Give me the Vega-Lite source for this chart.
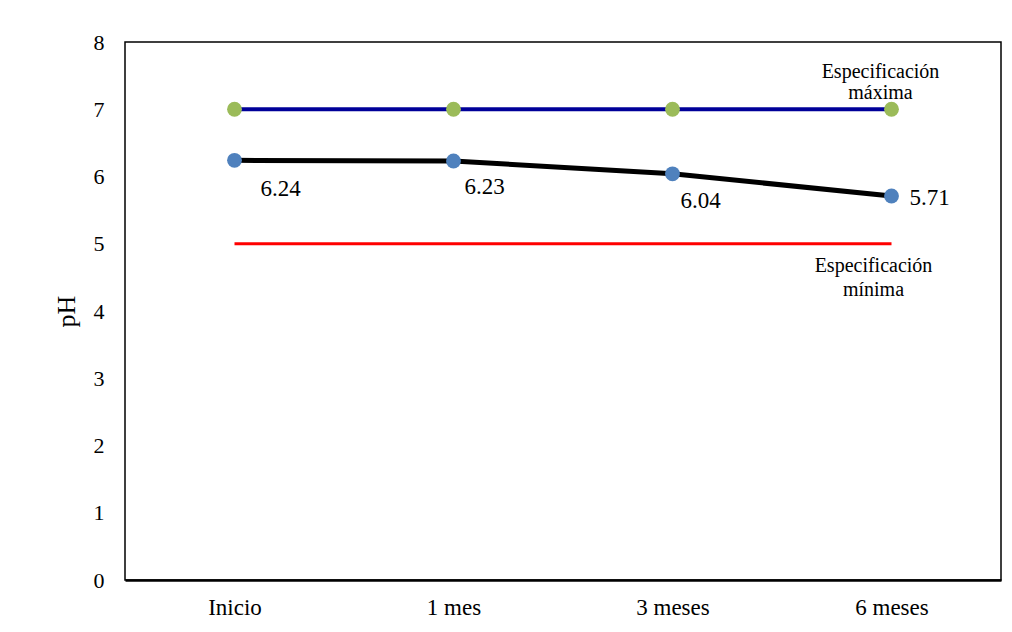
{
  "$schema": "https://vega.github.io/schema/vega-lite/v6.json",
  "autosize": {"type": "none"},
  "padding": {"left": 125, "top": 42, "right": 11, "bottom": 52},
  "width": 876,
  "height": 538,
  "background": "white",
  "config": {
    "font": "Liberation Serif, Times New Roman, serif",
    "text": {"font": "Liberation Serif, Times New Roman, serif"},
    "view": {"stroke": "black", "strokeWidth": 1.5},
    "axis": {"grid": false, "ticks": false, "labelFont": "Liberation Serif, Times New Roman, serif", "titleFont": "Liberation Serif, Times New Roman, serif", "labelColor": "black", "titleColor": "black"}
  },
  "data": {
    "values": [
      {"tiempo": "Inicio", "serie": "max", "ph": 7},
      {"tiempo": "1 mes", "serie": "max", "ph": 7},
      {"tiempo": "3 meses", "serie": "max", "ph": 7},
      {"tiempo": "6 meses", "serie": "max", "ph": 7},
      {"tiempo": "Inicio", "serie": "muestra", "ph": 6.24},
      {"tiempo": "1 mes", "serie": "muestra", "ph": 6.23},
      {"tiempo": "3 meses", "serie": "muestra", "ph": 6.04},
      {"tiempo": "6 meses", "serie": "muestra", "ph": 5.71},
      {"tiempo": "Inicio", "serie": "min", "ph": 5},
      {"tiempo": "1 mes", "serie": "min", "ph": 5},
      {"tiempo": "3 meses", "serie": "min", "ph": 5},
      {"tiempo": "6 meses", "serie": "min", "ph": 5}
    ]
  },
  "encoding": {
    "x": {
      "field": "tiempo", "type": "ordinal",
      "sort": ["Inicio", "1 mes", "3 meses", "6 meses"],
      "scale": {"type": "point", "padding": 0.5},
      "axis": {"title": null, "labelAngle": 0, "labelFontSize": 23, "labelPadding": 16, "domainColor": "black", "domainWidth": 2.5}
    },
    "y": {
      "field": "ph", "type": "quantitative",
      "scale": {"domain": [0, 8], "nice": false, "zero": true},
      "axis": {"title": "pH", "values": [0,1,2,3,4,5,6,7,8], "format": "d", "labelFontSize": 22, "labelPadding": 21, "domain": false, "titleFontSize": 26, "titleFontWeight": "normal", "titlePadding": 14}
    }
  },
  "layer": [
    {
      "transform": [{"filter": "datum.serie === 'min'"}],
      "mark": {"type": "line", "color": "#FF0000", "strokeWidth": 3}
    },
    {
      "transform": [{"filter": "datum.serie === 'max'"}],
      "mark": {"type": "line", "color": "#000099", "strokeWidth": 4}
    },
    {
      "transform": [{"filter": "datum.serie === 'max'"}],
      "mark": {"type": "point", "filled": true, "opacity": 1, "color": "#9BBB59", "size": 220}
    },
    {
      "transform": [{"filter": "datum.serie === 'muestra'"}],
      "mark": {"type": "line", "color": "black", "strokeWidth": 5}
    },
    {
      "transform": [{"filter": "datum.serie === 'muestra'"}],
      "mark": {"type": "point", "filled": true, "opacity": 1, "color": "#4F81BD", "size": 220}
    },
    {
      "transform": [{"filter": "datum.serie === 'muestra' && datum.tiempo === 'Inicio'"}],
      "mark": {"type": "text", "font": "Liberation Serif, Times New Roman, serif", "fontSize": 23, "color": "black", "dx": 46, "dy": 29},
      "encoding": {"text": {"field": "ph", "type": "quantitative", "format": ".2f"}}
    },
    {
      "transform": [{"filter": "datum.serie === 'muestra' && (datum.tiempo === '1 mes')"}],
      "mark": {"type": "text", "font": "Liberation Serif, Times New Roman, serif", "fontSize": 23, "color": "black", "dx": 31, "dy": 26},
      "encoding": {"text": {"field": "ph", "type": "quantitative", "format": ".2f"}}
    },
    {
      "transform": [{"filter": "datum.serie === 'muestra' && (datum.tiempo === '3 meses')"}],
      "mark": {"type": "text", "font": "Liberation Serif, Times New Roman, serif", "fontSize": 23, "color": "black", "dx": 28, "dy": 27},
      "encoding": {"text": {"field": "ph", "type": "quantitative", "format": ".2f"}}
    },
    {
      "transform": [{"filter": "datum.serie === 'muestra' && (datum.tiempo === '6 meses')"}],
      "mark": {"type": "text", "font": "Liberation Serif, Times New Roman, serif", "fontSize": 23, "color": "black", "dx": 38, "dy": 2},
      "encoding": {"text": {"field": "ph", "type": "quantitative", "format": ".2f"}}
    },
    {
      "transform": [{"filter": "datum.serie === 'max' && datum.tiempo === '6 meses'"}],
      "mark": {"type": "text", "font": "Liberation Serif, Times New Roman, serif", "fontSize": 20, "color": "black", "dx": -11, "dy": -37, "lineHeight": 21, "baseline": "middle", "text": ["Especificación", "máxima"]}
    },
    {
      "transform": [{"filter": "datum.serie === 'min' && datum.tiempo === '6 meses'"}],
      "mark": {"type": "text", "font": "Liberation Serif, Times New Roman, serif", "fontSize": 20, "color": "black", "dx": -18, "dy": 22, "lineHeight": 24, "baseline": "middle", "text": ["Especificación", "mínima"]}
    }
  ]
}
